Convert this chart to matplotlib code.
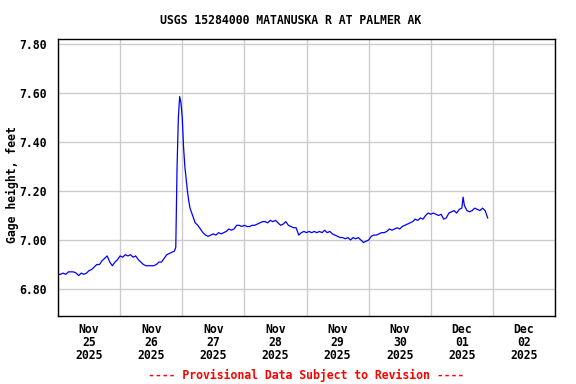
import matplotlib
matplotlib.use("Agg")
import matplotlib.pyplot as plt
import matplotlib.dates as mdates
import numpy as np
import pandas as pd

# gage height readings, hours since 2025-11-25 00:00
hours = [
    0, 1, 2, 3, 4, 5, 6, 7, 8, 9, 10, 11, 12, 13, 14, 15, 16, 17, 18, 19, 20, 21, 22, 23,
    24, 25, 26, 27, 28, 29, 30, 31, 32, 33, 34, 35, 36, 37, 38, 39, 40, 41, 42, 43, 44, 45,
    45.5, 46, 46.5, 47, 47.5, 48, 48.5, 49, 49.5, 50, 50.5, 51,
    52, 53, 54, 55, 56, 57, 58, 59, 60, 61, 62, 63, 64, 65, 66, 67, 68, 69, 70, 71,
    72, 73, 74, 75, 76, 77, 78, 79, 80, 81, 82, 83, 84, 85, 86, 87, 88, 89, 90, 91, 92, 93, 94, 95,
    96, 97, 98, 99, 100, 101, 102, 103, 104, 105, 106, 107, 108, 109, 110, 111, 112, 113, 114, 115,
    116, 117, 118, 119,
    120, 121, 122, 123, 124, 125, 126, 127, 128, 129, 130, 131, 132, 133, 134, 135, 136, 137, 138,
    139, 140, 141, 142, 143,
    144, 145, 146, 147, 148, 149, 150, 151, 152, 153, 154, 155, 156, 156.5, 157, 158, 159, 160,
    161, 162, 163, 164, 165, 166,
]
gage_ft = [
    6.86, 6.86, 6.865, 6.86, 6.87, 6.87, 6.87, 6.865, 6.855, 6.865, 6.86, 6.865, 6.875, 6.88,
    6.89, 6.90, 6.90, 6.915, 6.925, 6.935, 6.91, 6.895, 6.91, 6.92,
    6.935, 6.93, 6.94, 6.935, 6.94, 6.93, 6.935, 6.92, 6.91, 6.90, 6.895, 6.895, 6.895, 6.895,
    6.90, 6.91, 6.91, 6.925, 6.94, 6.945, 6.95, 6.955,
    6.97, 7.30, 7.50, 7.585, 7.56, 7.50, 7.38, 7.30, 7.25, 7.20, 7.16, 7.13,
    7.10, 7.07, 7.06, 7.045, 7.03, 7.02, 7.015, 7.02, 7.025, 7.02, 7.03, 7.025, 7.03, 7.035,
    7.045, 7.04, 7.045, 7.06, 7.06, 7.055,
    7.06, 7.055, 7.055, 7.06, 7.06, 7.065, 7.07, 7.075, 7.075, 7.07, 7.08, 7.075, 7.08, 7.07,
    7.06, 7.065, 7.075, 7.06, 7.055, 7.05, 7.05, 7.02, 7.03, 7.035,
    7.03, 7.035, 7.03, 7.035, 7.03, 7.035, 7.03, 7.04, 7.03, 7.035, 7.025, 7.02, 7.015, 7.01,
    7.01, 7.005, 7.01, 7.00, 7.01, 7.005, 7.01, 7.00, 6.99, 6.995,
    7.00, 7.015, 7.02, 7.02, 7.025, 7.03, 7.03, 7.035, 7.045, 7.04, 7.045, 7.05, 7.045, 7.055,
    7.06, 7.065, 7.07, 7.075, 7.085, 7.08, 7.09, 7.085, 7.10, 7.11,
    7.105, 7.11, 7.105, 7.10, 7.105, 7.085, 7.09, 7.11, 7.115, 7.12, 7.11, 7.125, 7.13, 7.175,
    7.14, 7.12, 7.115, 7.12, 7.13, 7.125, 7.12, 7.13, 7.12, 7.09,
]

y_ticks = [6.80, 7.00, 7.20, 7.40, 7.60, 7.80]

start = pd.Timestamp("2025-11-25")
times = start + pd.to_timedelta(hours, unit="h")

plt.rcParams['font.family'] = ['DejaVu Sans Mono']
plt.rcParams['font.weight'] = 'bold'
fs = 8.3

fig = plt.figure(figsize=(5.76, 3.84), dpi=100)
ax = fig.add_axes([58 / 576, 68 / 384, 497 / 576, 277 / 384])

ax.plot(times, gage_ft, color='#0000ff', linewidth=0.9)

ax.set_xlim(start, start + pd.Timedelta(days=8))
ax.set_ylim(6.69, 7.82)

ax.xaxis.set_major_locator(mdates.DayLocator())
ax.xaxis.set_major_formatter(plt.NullFormatter())
ax.xaxis.set_minor_locator(mdates.HourLocator(byhour=[12]))
ax.xaxis.set_minor_formatter(mdates.DateFormatter('%b\n%d\n%Y'))
ax.tick_params(axis='x', which='both', length=0, pad=5, labelsize=fs)
for lbl in ax.xaxis.get_minorticklabels():
    lbl.set_fontweight('bold')
    lbl.set_linespacing(1.0)

ax.set_yticks(y_ticks)
ax.set_yticklabels([f'{v:.2f}' for v in y_ticks], fontweight='bold')
ax.tick_params(axis='y', length=0, pad=8, labelsize=fs)

ax.grid(True, which='major', color='#cccccc', linewidth=1)
ax.set_axisbelow(True)
for s in ax.spines.values():
    s.set_color('black')
    s.set_linewidth(1)

fig.text(12 / 576, 1 - 185 / 384, 'Gage height, feet', rotation=90,
         ha='center', va='center', fontsize=fs, fontweight='bold')

fig.text(291 / 576, 1 - 20 / 384, 'USGS 15284000 MATANUSKA R AT PALMER AK',
         ha='center', va='center', fontsize=fs, fontweight='bold')
fig.text(306 / 576, 1 - 375 / 384, '---- Provisional Data Subject to Revision ----',
         ha='center', va='center', fontsize=fs, fontweight='bold', color='red')

fig.savefig('out.png', dpi=100)
